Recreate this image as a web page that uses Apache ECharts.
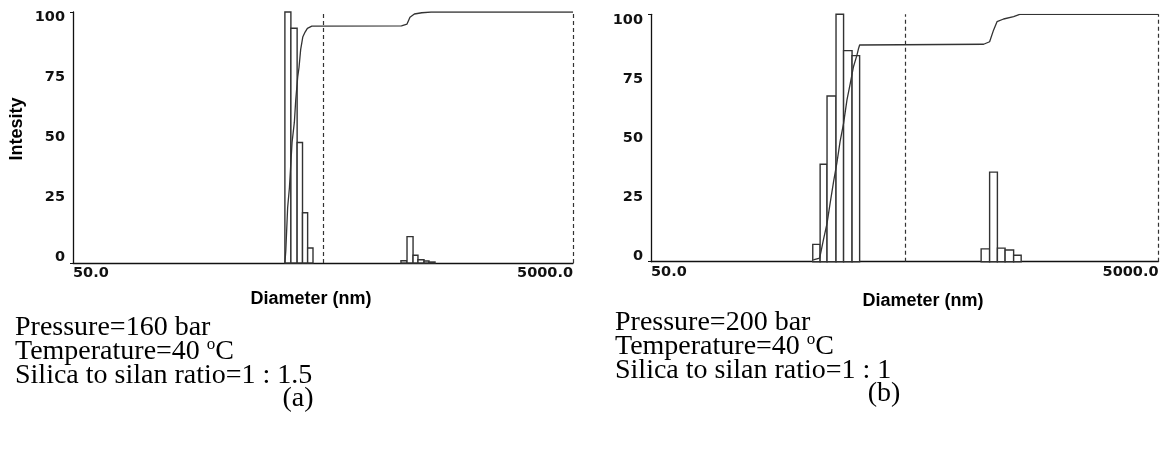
<!DOCTYPE html>
<html>
<head>
<meta charset="utf-8">
<script src="https://cdn.jsdelivr.net/npm/echarts@6/dist/echarts.min.js"></script>
<style>
  html, body { margin: 0; background: #fff; }
  #chart { width: 1165px; height: 450px; }
</style>
</head>
<body>
<div id="chart"></div>
<script>
// (a) 160 bar — histogram bins (nm) and intensity
const binLeftA = [352, 372, 394, 414, 434, 1025, 1084, 1146, 1199, 1268, 1327];
const binRightA = [372, 394, 414, 434, 456, 1084, 1146, 1199, 1268, 1327, 1403];
const intensityA = [100, 93.5, 48, 20, 6, 0.9, 10.5, 3.1, 1.3, 0.8, 0.4];
// (a) cumulative curve
const cumDiamA = [352, 355, 361, 367, 376, 384, 389, 396, 401, 407, 415, 424, 433, 451, 1030, 1084, 1114, 1160, 1242, 1352, 5000];
const cumA = [0, 5, 22, 30, 48, 56, 65, 74, 78, 85, 90, 92, 93.5, 94.4, 94.5, 95.2, 97.9, 99.2, 99.7, 100, 100];

// (b) 200 bar
const binLeftB = [217, 232, 247, 268, 287, 310, 1000, 1080, 1159, 1243, 1343];
const binRightB = [232, 247, 268, 287, 310, 332, 1080, 1159, 1243, 1343, 1438];
const intensityB = [7, 39.4, 67, 100, 85.3, 83.3, 5.2, 36.2, 5.5, 4.7, 2.6];
const cumDiamB = [218, 231, 239, 247, 254, 262, 270, 278, 287, 296, 305, 314, 324, 329, 332, 1023, 1080, 1120, 1155, 1226, 1343, 1419, 5000];
const cumB = [0.7, 1.4, 8.8, 15.5, 23.6, 32.3, 39.8, 48.5, 55.9, 65.4, 72.1, 78.8, 83.5, 86.3, 87.6, 87.9, 88.9, 93.7, 97, 98.1, 99.1, 100, 100];

const xTickLabels = ['50.0', '5000.0'];
const guideLines = [500, 5000];
const yName = 'Intesity';
const xName = 'Diameter (nm)';
const notesA = ['Pressure=160 bar', 'Temperature=40 {sup|o}C', 'Silica to silan ratio=1 : 1.5', '(a)'];
const notesB = ['Pressure=200 bar', 'Temperature=40 {sup|o}C', 'Silica to silan ratio=1 : 1', '(b)'];

const chart = echarts.init(document.getElementById('chart'));

const ink = '#333';
const tickFont = { fontFamily: 'DejaVu Sans', fontWeight: 'bold', fontSize: 14.5, color: '#111' };

const zip = (a, b) => a.map((v, i) => [v, b[i]]);
const bins = (l, r, h) => l.map((v, i) => [v, r[i], h[i]]);

// each bin is a rect between its two diameters
const renderBin = (params, api) => {
  const p0 = api.coord([api.value(0), api.value(2)]);
  const p1 = api.coord([api.value(1), 0]);
  return {
    type: 'rect',
    shape: { x: p0[0], y: p0[1], width: p1[0] - p0[0], height: p1[1] - p0[1] },
    style: { fill: '#fff', stroke: ink, lineWidth: 1.4 }
  };
};

const mainX = (gi) => ({
  type: 'log', logBase: 10, gridIndex: gi, min: 50, max: 5000,
  axisLine: { lineStyle: { color: '#111', width: 1.3 } },
  axisTick: { show: false },
  splitLine: { show: false },
  axisLabel: {
    ...tickFont, margin: 3, showMinLabel: true, showMaxLabel: true,
    alignMinLabel: 'left', alignMaxLabel: 'right',
    formatter: (v) => {
      const r = Math.round(v);
      return r === 50 ? xTickLabels[0] : r === 5000 ? xTickLabels[1] : '';
    }
  }
});

const mainY = (gi) => ({
  type: 'value', gridIndex: gi, min: 0, max: 100, interval: 100,
  axisLine: { show: true, lineStyle: { color: '#111', width: 1.3 } },
  axisTick: { show: true, length: 3, lineStyle: { color: '#111' } },
  axisLabel: { show: false },
  splitLine: { show: false }
});

// labels of the y axis sit slightly inside the data range in the original
const labelY = (gi) => ({
  type: 'value', gridIndex: gi, min: 0, max: 100, interval: 25,
  axisLine: { show: false }, axisTick: { show: false }, splitLine: { show: false },
  axisLabel: { ...tickFont, margin: 8 }
});

const guide = {
  silent: true, symbol: ['none', 'none'], label: { show: false },
  lineStyle: { color: ink, type: [4, 3], width: 1.2 },
  data: guideLines.map(v => ({ xAxis: v }))
};

const cumLine = (xi, data) => ({
  type: 'line', xAxisIndex: xi, yAxisIndex: xi, data: data,
  symbol: 'none', z: 5,
  lineStyle: { color: ink, width: 1.3 },
  markLine: guide
});

const serif = (x, y, lines, gap) => lines.map((t, i) => ({
  type: 'text', x: i === 3 ? x[1] : x[0], y: y + i * gap,
  style: {
    text: t, font: '28px "Liberation Serif"', fill: '#000',
    textAlign: i === 3 ? 'center' : 'left', textVerticalAlign: 'middle',
    rich: { sup: { fontSize: 17, fontFamily: 'Liberation Serif', verticalAlign: 'top', padding: [0, 0, 15, 0] } }
  }
}));

chart.setOption({
  animation: false,
  backgroundColor: '#fff',
  grid: [
    { left: 73, top: 12, width: 500, height: 251 },
    { left: 651, top: 14.3, width: 507.5, height: 247.4 },
    { left: 73, top: 17, width: 500, height: 240 },
    { left: 651, top: 20, width: 507.5, height: 236 }
  ],
  xAxis: [
    mainX(0), mainX(1),
    { type: 'value', gridIndex: 2, show: false },
    { type: 'value', gridIndex: 3, show: false }
  ],
  yAxis: [mainY(0), mainY(1), labelY(2), labelY(3)],
  series: [
    { type: 'custom', xAxisIndex: 0, yAxisIndex: 0, renderItem: renderBin, data: bins(binLeftA, binRightA, intensityA), z: 3 },
    cumLine(0, zip(cumDiamA, cumA)),
    { type: 'custom', xAxisIndex: 1, yAxisIndex: 1, renderItem: renderBin, data: bins(binLeftB, binRightB, intensityB), z: 3 },
    cumLine(1, zip(cumDiamB, cumB))
  ],
  graphic: [
    { type: 'text', x: 17, y: 129, rotation: Math.PI / 2,
      style: { text: yName, font: 'bold 18px "Liberation Sans"', fill: '#000', textAlign: 'center', textVerticalAlign: 'middle' } },
    { type: 'text', x: 311, y: 299,
      style: { text: xName, font: 'bold 18px "Liberation Sans"', fill: '#000', textAlign: 'center', textVerticalAlign: 'middle' } },
    { type: 'text', x: 923, y: 301,
      style: { text: xName, font: 'bold 18px "Liberation Sans"', fill: '#000', textAlign: 'center', textVerticalAlign: 'middle' } },
    ...serif([15, 298], 328, notesA, 23.7),
    ...serif([615, 884], 323, notesB, 23.7)
  ]
});
</script>
</body>
</html>
